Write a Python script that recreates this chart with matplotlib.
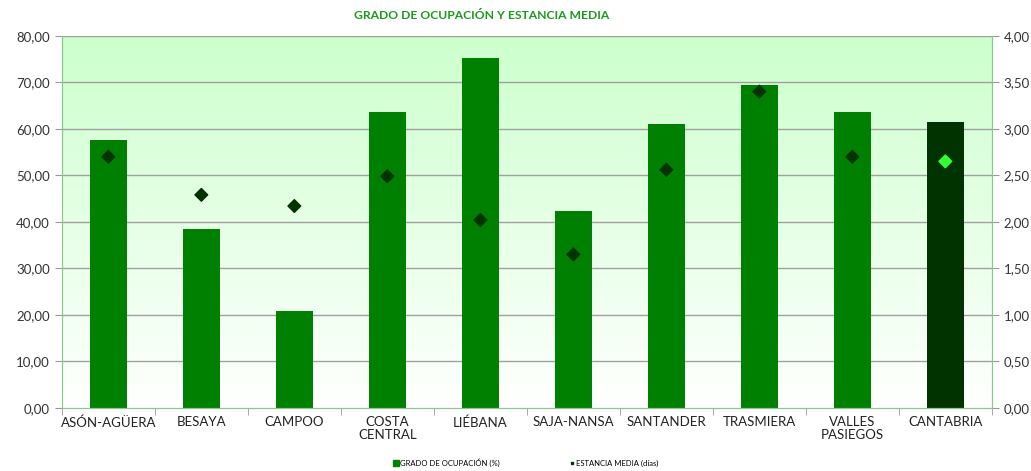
import numpy as np
import matplotlib.pyplot as plt
from matplotlib.colors import LinearSegmentedColormap
from matplotlib.lines import Line2D
from matplotlib.patches import Patch

plt.rcParams['font.family'] = ['Lato', 'DejaVu Sans']

comarcas = ["ASÓN-AGÜERA", "BESAYA", "CAMPOO", "COSTA\nCENTRAL", "LIÉBANA",
            "SAJA-NANSA", "SANTANDER", "TRASMIERA", "VALLES\nPASIEGOS", "CANTABRIA"]
ocupacion = [57.5, 38.4, 20.8, 63.6, 75.2, 42.3, 61.0, 69.4, 63.6, 61.5]
estancia = [2.70, 2.29, 2.17, 2.49, 2.02, 1.65, 2.56, 3.40, 2.70, 2.65]

bar_colors = ["#008000"] * 9 + ["#003300"]
mk_colors = ["#003300"] * 9 + ["#33ff33"]

def fmt(v, _=None, d=2):
    return f"{v:.{d}f}".replace(".", ",")

fig = plt.figure(figsize=(10.31, 4.71), dpi=100)
ax = fig.add_axes([0.060, 0.134, 0.902, 0.790])
ax2 = ax.twinx()

x = np.arange(len(comarcas))
ax.set_xlim(-0.5, len(comarcas) - 0.5)
ax.set_ylim(0, 80)
ax2.set_ylim(0, 4)

# fondo degradado verde -> blanco
cmap = LinearSegmentedColormap.from_list("fondo", ["#ffffff", "#ccffcc"])
grad = np.linspace(0, 1, 256).reshape(-1, 1)
ax.imshow(grad, cmap=cmap, aspect="auto", origin="lower",
          extent=[-0.5, len(comarcas) - 0.5, 0, 80], zorder=0)

for y in range(10, 90, 10):
    ax.axhline(y, color="#a0a0a0", lw=1, zorder=1)

ax.bar(x, ocupacion, width=0.4, color=bar_colors, zorder=2)
ax2.scatter(x, estancia, marker="D", s=42, c=mk_colors, zorder=3)

ax.set_yticks(np.arange(0, 90, 10))
ax.set_yticklabels([fmt(v) for v in np.arange(0, 90, 10)], fontsize=9.5, color="#333333")
ax2.set_yticks(np.arange(0, 4.5, 0.5))
ax2.set_yticklabels([fmt(v) for v in np.arange(0, 4.5, 0.5)], fontsize=9.5, color="#333333")

ax.set_xticks(x)
ax.set_xticklabels(comarcas, fontsize=9.5, color="#222222", linespacing=1.1)
ax.tick_params(axis="x", length=0, pad=6)
ax.set_xticks(np.arange(-0.5, len(comarcas), 1), minor=True)
ax.tick_params(axis="x", which="minor", length=5, color="#999999")
ax.tick_params(axis="y", length=5, color="#999999")
ax2.tick_params(axis="y", length=5, color="#999999")

for a in (ax, ax2):
    a.spines["top"].set_visible(False)
    for s in ("left", "right", "bottom"):
        a.spines[s].set_color("#8cc68c")

fig.text(0.467, 0.968, "GRADO DE OCUPACIÓN Y ESTANCIA MEDIA", ha="center", va="center",
         fontsize=8.7, fontweight="bold", color="#1a9a1a")

handles = [Patch(color="#008000", label="GRADO DE OCUPACIÓN (%)"),
           Line2D([], [], marker="s", ls="", color="#003300", markersize=2,
                  label="ESTANCIA MEDIA (días)")]
fig.legend(handles=handles, loc="center", bbox_to_anchor=(0.51, 0.018), ncol=2,
           frameon=False, fontsize=5.5, handlelength=0.7, handletextpad=0.2,
           columnspacing=9)

fig.savefig("out.png", dpi=100)
